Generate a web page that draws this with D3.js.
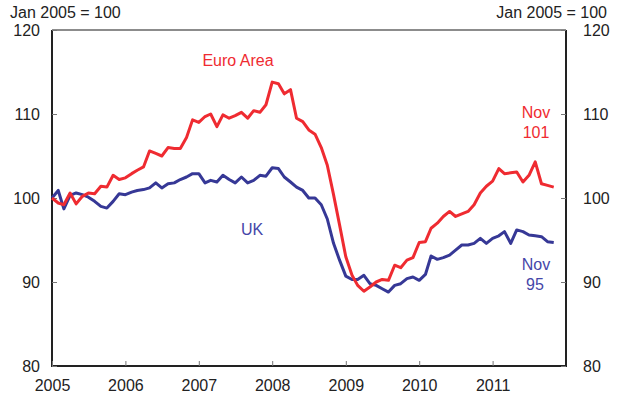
<!DOCTYPE html>
<html>
<head>
<meta charset="utf-8">
<script src="https://cdn.jsdelivr.net/npm/d3@7"></script>
<style>
  body { margin: 0; background: #fff; }
  text { font-family: "Liberation Sans", Arial, sans-serif; }
</style>
</head>
<body>
<svg width="619" height="400"></svg>
<script>
// monthly index, Jan 2005 = 100 (Jan 2005 .. Nov 2011)
let euroArea = [
  100.0, 99.4, 99.2, 100.6, 99.3, 100.2, 100.6, 100.5, 101.4, 101.3, 102.7, 102.2,
  102.4, 102.9, 103.3, 103.7, 105.6, 105.3, 105.0, 106.0, 105.9, 105.9, 107.2, 109.3,
  109.0, 109.7, 110.0, 108.5, 109.9, 109.5, 109.8, 110.2, 109.5, 110.4, 110.2, 111.1,
  113.8, 113.6, 112.4, 112.9, 109.5, 109.1, 108.1, 107.6, 106.0, 103.9, 100.4, 96.8,
  93.0, 90.8, 89.6, 88.9, 89.4, 90.0, 90.3, 90.2, 92.0, 91.7, 92.6, 92.9,
  94.7, 94.8, 96.4, 97.0, 97.8, 98.4, 97.8, 98.1, 98.4, 99.2, 100.6, 101.4,
  102.0, 103.5, 102.9, 103.0, 103.1, 101.9, 102.7, 104.3, 101.7, 101.5, 101.3
];
let uk = [
  100.0, 100.9, 98.7, 100.3, 100.6, 100.4, 100.1, 99.6, 99.0, 98.8, 99.6, 100.5,
  100.4, 100.7, 100.9, 101.0, 101.2, 101.8, 101.2, 101.7, 101.8, 102.2, 102.5, 102.9,
  102.9, 101.8, 102.1, 101.9, 102.7, 102.2, 101.8, 102.5, 101.8, 102.1, 102.7, 102.6,
  103.6, 103.5, 102.5, 101.9, 101.3, 100.9, 100.0, 100.0, 99.2, 97.5, 94.6, 92.6,
  90.7, 90.3, 90.3, 90.8, 89.8, 89.6, 89.2, 88.8, 89.6, 89.8, 90.4, 90.6,
  90.2, 90.9, 93.1, 92.7, 92.9, 93.2, 93.8, 94.4, 94.4, 94.6, 95.2, 94.6,
  95.2, 95.5, 96.0, 94.6, 96.2, 96.0, 95.6, 95.5, 95.4, 94.8, 94.7
];
let yTicks = [80, 90, 100, 110, 120];
let years = [2005, 2006, 2007, 2008, 2009, 2010, 2011];

var svg = d3.select('svg');
var plotLeft = 52, plotRight = 566, plotTop = 30, plotBottom = 366;
var red = '#ef2b31', blue = '#363896';

let x = d3.scaleTime()
    .domain([new Date(2005, 0, 1), new Date(2012, 0, 1)])
    .range([plotLeft, plotRight]);

let y = d3.scaleLinear()
    .domain([80, 120])
    .range([plotBottom, plotTop]);

function monthDate(i) { return new Date(2005, i, 1); }

/* ----------- frame ----------- */

svg.append('line')
    .attr('x1', plotLeft).attr('x2', plotRight).attr('y1', plotTop).attr('y2', plotTop)
    .attr('stroke', '#666').attr('stroke-width', 1.5);

svg.append('path')
    .attr('d', `M${plotLeft},${plotTop}V${plotBottom}H${plotRight}V${plotTop}`)
    .attr('fill', 'none')
    .attr('stroke', '#222')
    .attr('stroke-width', 2);

/* ----------- axes ----------- */

var xAxis = svg.append('g')
    .attr('transform', `translate(0,${plotBottom})`)
    .call(d3.axisBottom(x)
        .tickValues(years.map(d => new Date(d, 0, 1)))
        .tickFormat(d3.timeFormat('%Y'))
        .tickSize(-5)
        .tickPadding(14));

var yLeft = svg.append('g')
    .attr('transform', `translate(${plotLeft},0)`)
    .call(d3.axisLeft(y).tickValues(yTicks).tickSize(-5).tickPadding(12));

var yRight = svg.append('g')
    .attr('transform', `translate(${plotRight},0)`)
    .call(d3.axisRight(y).tickValues(yTicks).tickSize(-5).tickPadding(17));

[xAxis, yLeft, yRight].forEach(g => {
    g.select('.domain').remove();
    g.selectAll('.tick line').attr('stroke', '#777').attr('stroke-width', 1);
    g.selectAll('.tick text')
        .attr('fill', '#222')
        .style('font-size', '16px')
        .style('font-family', '"Liberation Sans", Arial, sans-serif');
});

svg.append('text').attr('x', 10).attr('y', 18)
    .attr('fill', '#222').style('font-size', '16px')
    .text('Jan 2005 = 100');

svg.append('text').attr('x', 607).attr('y', 18)
    .attr('text-anchor', 'end')
    .attr('fill', '#222').style('font-size', '16px')
    .text('Jan 2005 = 100');

/* ----------- lines ----------- */

let line = d3.line()
    .x((d, i) => x(monthDate(i)))
    .y(d => y(d));

svg.append('path')
    .datum(uk)
    .attr('fill', 'none')
    .attr('stroke', blue)
    .attr('stroke-width', 3)
    .attr('stroke-linejoin', 'round')
    .attr('d', line);

svg.append('path')
    .datum(euroArea)
    .attr('fill', 'none')
    .attr('stroke', red)
    .attr('stroke-width', 3)
    .attr('stroke-linejoin', 'round')
    .attr('d', line);

/* ----------- labels ----------- */

function label(txt, px, py, col) {
    svg.append('text')
        .attr('x', px).attr('y', py)
        .attr('text-anchor', 'middle')
        .attr('fill', col)
        .style('font-size', '16px')
        .text(txt);
}

label('Euro Area', 238, 66, red);
label('UK', 252, 235, '#4546a8');
label('Nov', 536, 118, red);
label('101', 536, 138, red);
label('Nov', 536, 270, '#4546a8');
label('95', 535, 290, '#4546a8');
</script>
</body>
</html>
